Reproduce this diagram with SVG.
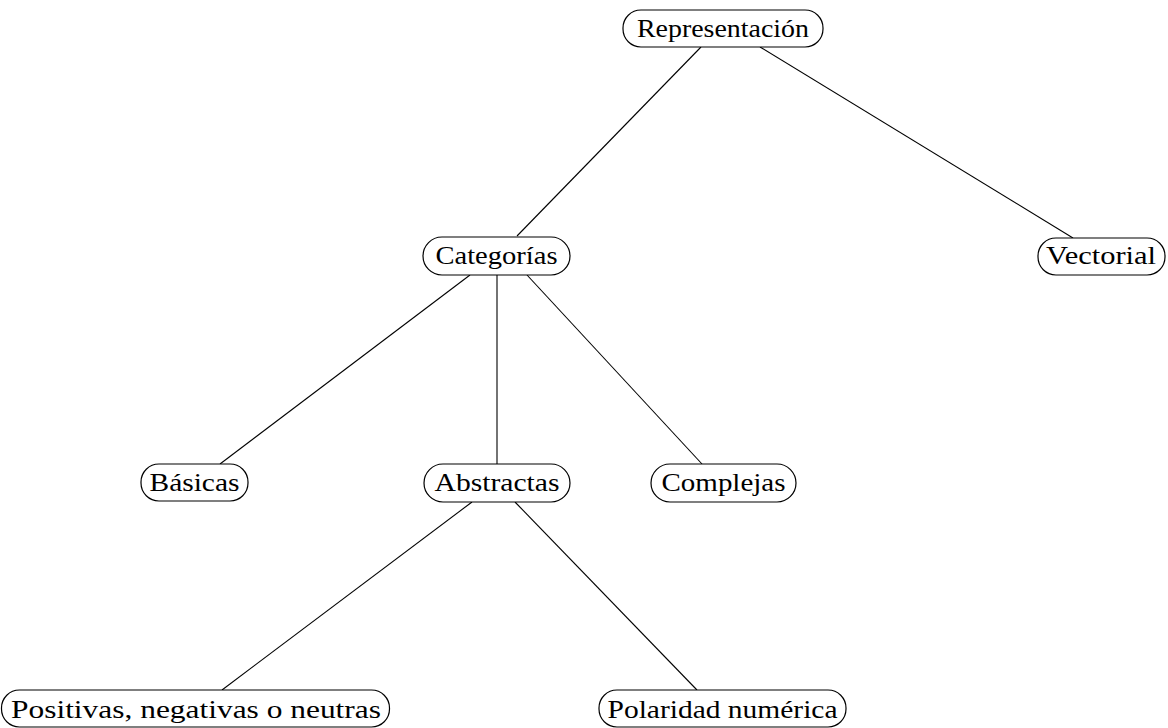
<svg xmlns="http://www.w3.org/2000/svg" width="1168" height="728" viewBox="0 0 1168 728">
<style>
.n rect{fill:#fff;stroke:#000;stroke-width:1.2}
.n text{font-family:"Liberation Serif","DejaVu Serif",serif;font-size:25px;text-anchor:middle;fill:#000}
#edges line{stroke:#000;stroke-width:1.1}
</style>
<rect width="1168" height="728" fill="#fff"/>
<g id="edges">
<line x1="701" y1="47" x2="517" y2="236"/>
<line x1="760" y1="47" x2="1073" y2="238"/>
<line x1="470" y1="275" x2="220" y2="464"/>
<line x1="497" y1="275" x2="497" y2="464"/>
<line x1="527" y1="275" x2="702" y2="464"/>
<line x1="472" y1="502" x2="222" y2="690"/>
<line x1="515" y1="502" x2="697" y2="690"/>
</g>
<g id="n-representacion" class="n"><rect x="623" y="10" width="200" height="37" rx="18"/><text x="723" y="37" textLength="172" lengthAdjust="spacingAndGlyphs">Representación</text></g>
<g id="n-categorias" class="n"><rect x="423" y="237" width="147" height="38" rx="19"/><text x="496.5" y="264" textLength="122" lengthAdjust="spacingAndGlyphs">Categorías</text></g>
<g id="n-vectorial" class="n"><rect x="1038" y="238" width="127" height="37" rx="18"/><text x="1101" y="264" textLength="110" lengthAdjust="spacingAndGlyphs">Vectorial</text></g>
<g id="n-basicas" class="n"><rect x="141" y="464" width="107" height="37" rx="18"/><text x="194.5" y="491" textLength="90" lengthAdjust="spacingAndGlyphs">Básicas</text></g>
<g id="n-abstractas" class="n"><rect x="424" y="464" width="146" height="38" rx="19"/><text x="497" y="491" textLength="125" lengthAdjust="spacingAndGlyphs">Abstractas</text></g>
<g id="n-complejas" class="n"><rect x="651" y="464" width="145" height="38" rx="19"/><text x="723.5" y="491" textLength="124" lengthAdjust="spacingAndGlyphs">Complejas</text></g>
<g id="n-positivas" class="n"><rect x="1.5" y="690" width="388" height="37" rx="18"/><text x="196" y="718" textLength="370" lengthAdjust="spacingAndGlyphs">Positivas, negativas o neutras</text></g>
<g id="n-polaridad" class="n"><rect x="599" y="690" width="247" height="37" rx="18"/><text x="722.5" y="718" textLength="230" lengthAdjust="spacingAndGlyphs">Polaridad numérica</text></g>
</svg>
